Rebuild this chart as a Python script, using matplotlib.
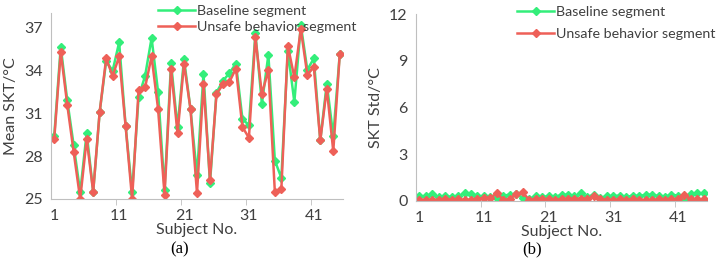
import matplotlib
matplotlib.use("Agg")
import matplotlib.pyplot as plt
import numpy as np

subjects = list(range(1, 46))
mean_baseline = [29.4, 35.64, 31.9, 28.74, 25.47, 29.63, 25.5, 31.08, 34.64, 33.96,
                 35.95, 30.1, 25.47, 32.13, 33.6, 36.25, 32.5, 25.65, 34.5, 30.0,
                 34.78, 31.27, 26.66, 33.77, 26.1, 32.44, 33.26, 33.8, 34.47, 30.6,
                 30.15, 36.58, 31.67, 35.08, 27.69, 26.47, 35.36, 31.78, 37.16, 34.03,
                 34.82, 29.09, 33.07, 29.4, 35.13]
mean_unsafe = [29.2, 35.3, 31.6, 28.27, 25.0, 29.2, 25.5, 31.08, 34.82, 33.6,
               34.96, 30.1, 25.0, 32.63, 32.8, 34.96, 31.3, 25.3, 34.12, 29.58,
               34.47, 31.27, 25.42, 33.02, 26.36, 32.32, 33.02, 33.19, 34.12, 30.03,
               29.28, 36.3, 32.32, 34.03, 25.47, 25.7, 35.71, 33.5, 36.88, 33.68,
               34.24, 29.09, 32.72, 28.34, 35.13]
std_baseline = [0.3, 0.3, 0.45, 0.25, 0.3, 0.25, 0.3, 0.5, 0.45, 0.3,
                0.3, 0.25, 0.2, 0.35, 0.4, 0.45, 0.2, 0.15, 0.3, 0.25,
                0.3, 0.25, 0.4, 0.4, 0.3, 0.5, 0.25, 0.4, 0.2, 0.3,
                0.3, 0.35, 0.25, 0.35, 0.3, 0.4, 0.4, 0.3, 0.25, 0.4,
                0.35, 0.1, 0.45, 0.5, 0.5]
std_unsafe = [0.08, 0.08, 0.06, 0.08, 0.1, 0.08, 0.1, 0.06, 0.08, 0.15,
              0.2, 0.2, 0.5, 0.08, 0.12, 0.45, 0.55, 0.08, 0.1, 0.1,
              0.12, 0.06, 0.1, 0.12, 0.15, 0.15, 0.12, 0.3, 0.1, 0.08,
              0.06, 0.1, 0.08, 0.12, 0.06, 0.08, 0.08, 0.1, 0.08, 0.15,
              0.1, 0.4, 0.1, 0.1, 0.1]
xtick_labels = ["1", "11", "21", "31", "41"]
labels = ["Baseline segment", "Unsafe behavior segment"]

GREEN = "#33EE7A"
RED = "#EE6058"
SPINE = "#BFBFBF"
TXT = "#404040"
FONT = "Lato"
FS = 11.5
LFS = 10.3

plt.rcParams['font.family'] = [FONT, 'DejaVu Sans']

fig = plt.figure(figsize=(7.19, 2.61), dpi=100)
W, H = 719, 261

def make_ax(l, r, top, bot):
    return fig.add_axes([l / W, 1 - bot / H, (r - l) / W, (bot - top) / H])

ax1 = make_ax(51, 343, 13, 199)
ax2 = make_ax(416, 707, 14, 201)

def style(ax, series, ylim, yticks, ylabel, xlabel):
    ax.plot(subjects, series[0], color=GREEN, lw=1.8, marker='D', ms=4.2,
            label=labels[0])
    ax.plot(subjects, series[1], color=RED, lw=1.8, marker='D', ms=4.2,
            label=labels[1])
    ax.set_xlim(0.5, 45.5)
    ax.set_ylim(*ylim)
    ax.set_yticks(yticks)
    ax.set_yticklabels([str(t) for t in yticks])
    ax.set_xticks([1, 11, 21, 31, 41])
    ax.set_xticklabels(xtick_labels)
    ax.set_xticks([10.5, 20.5, 30.5, 40.5], minor=True)
    ax.tick_params(axis='x', which='major', length=0, labelsize=FS, colors=TXT, pad=7)
    ax.tick_params(axis='x', which='minor', length=4, color=SPINE)
    ax.tick_params(axis='y', length=0, labelsize=FS, colors=TXT, pad=6)
    for s in ['top', 'right']:
        ax.spines[s].set_visible(False)
    for s in ['left', 'bottom']:
        ax.spines[s].set_color(SPINE)
    ax.set_ylabel(ylabel, fontsize=FS, color=TXT, labelpad=4)
    ax.set_xlabel(xlabel, fontsize=FS, color=TXT, labelpad=0)

style(ax1, (mean_baseline, mean_unsafe), (25, 38), [25, 28, 31, 34, 37],
      "Mean SKT/°C", "Subject No.")
style(ax2, (std_baseline, std_unsafe), (0, 12), [0, 3, 6, 9, 12],
      "SKT Std/°C", "Subject No.")

for ax, x0, y0, sp in [(ax1, 158, 5, 0.3), (ax2, 517, 6, 0.7)]:
    leg = ax.legend(loc='upper left', bbox_to_anchor=(x0 / W, 1 - y0 / H),
                    bbox_transform=fig.transFigure, frameon=False, fontsize=LFS,
                    handlelength=2.6, handletextpad=0.15, borderpad=0,
                    labelspacing=sp, borderaxespad=0)
    for t in leg.get_texts():
        t.set_color(TXT)

fig.text(180 / W, 1 - 249 / H, "(a)", ha='center', va='center',
         fontsize=12, family='Liberation Serif')
fig.text(532 / W, 1 - 249 / H, "(b)", ha='center', va='center',
         fontsize=12, family='Liberation Serif')

fig.savefig("out.png", dpi=100)
